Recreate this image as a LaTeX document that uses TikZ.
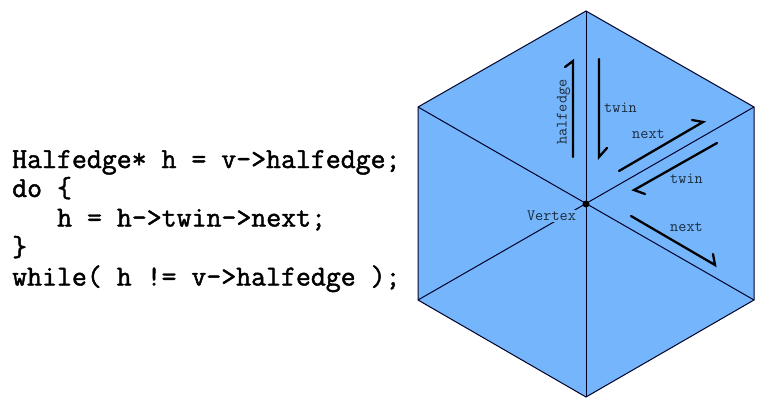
\documentclass[tikz,border=0pt]{standalone}
\usepackage{fontspec}
\newfontfamily\codefont[FakeBold=1.6]{Latin Modern Mono}
\newfontfamily\labfont{Latin Modern Mono}
\definecolor{hexblue}{HTML}{74B5FC}
\definecolor{labelink}{HTML}{1C2C3C}
\tikzset{
  hexedge/.style={draw=black!85!blue,line width=1pt},
  halfarrow/.style={draw=black,line width=2.3pt,line cap=round,line join=miter},
  lab/.style={font=\fontsize{15.8}{16}\selectfont\labfont,text=labelink,inner sep=0pt},
  code/.style={font=\fontsize{29}{30}\selectfont\codefont,text=black,inner sep=0pt,anchor=base west}
}
\begin{document}
\begin{tikzpicture}[x=1pt,y=-1pt]
\useasboundingbox (0,0) rectangle (779,405);
\coordinate (T) at (586,11);
\coordinate (UR) at (754,107);
\coordinate (LR) at (754,300);
\coordinate (B) at (586,397);
\coordinate (LL) at (418,300);
\coordinate (UL) at (418,107);
\coordinate (V) at (586,204);
\fill[hexblue] (T)--(UR)--(LR)--(B)--(LL)--(UL)--cycle;
\draw[hexedge,line join=miter] (T)--(UR)--(LR)--(B)--(LL)--(UL)--cycle;
\draw[hexedge] (T)--(B);
\draw[hexedge] (UL)--(LR);
\draw[hexedge] (LL)--(UR);
\node[circle,fill=black,minimum size=7pt,inner sep=0pt] (vdot) at (V) {};
\node[lab,fill=hexblue,inner xsep=0pt,inner ysep=1pt] (vertexlab) at (551.5,216) {Vertex};
% half-edge arrows
\coordinate (a1) at (573,157); \coordinate (a2) at (573,61); \coordinate (a3) at (565,67);
\coordinate (b1) at (599,59); \coordinate (b2) at (599,157); \coordinate (b3) at (607,148);
\coordinate (c1) at (619,171); \coordinate (c2) at (703,122); \coordinate (c3) at (692,120);
\coordinate (d1) at (717,143); \coordinate (d2) at (634,190); \coordinate (d3) at (645,194);
\coordinate (e1) at (631,216); \coordinate (e2) at (715,265); \coordinate (e3) at (713,254);
\draw[halfarrow] (a1)--(a2)--(a3);
\draw[halfarrow] (b1)--(b2)--(b3);
\draw[halfarrow] (c1)--(c2)--(c3);
\draw[halfarrow] (d1)--(d2)--(d3);
\draw[halfarrow] (e1)--(e2)--(e3);
\node[lab,rotate=90] (l1) at (563.5,112) {halfedge};
\node[lab] (l2) at (620.5,107.5) {twin};
\node[lab] (l3) at (648.5,134) {next};
\node[lab] (l4) at (686.5,179) {twin};
\node[lab] (l5) at (686.5,227.5) {next};
% code
\node[code] (c-1) at (12,168) {Halfedge* h = v->halfedge;};
\node[code] (c-2) at (12,197) {do \{};
\node[code] (c-3) at (57,226.5) {h = h->twin->next;};
\node[code] (c-4) at (12,256) {\}};
\node[code] (c-5) at (12,285.5) {while( h != v->halfedge );};
\end{tikzpicture}
\end{document}
